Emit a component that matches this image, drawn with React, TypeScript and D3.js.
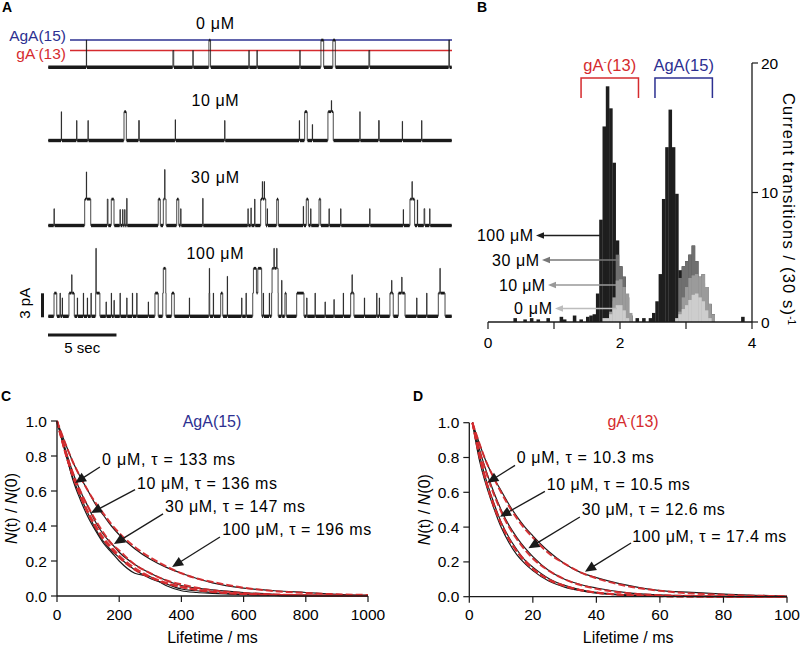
import React from 'react';
import * as d3 from 'd3';

const FONT = "'Liberation Sans', Arial, Helvetica, sans-serif";
const BLUE = '#2d3091';
const RED = '#d52b2e';
const INK = '#1a1a1a';

// ---------------- Panel A data ----------------
const traceNames = ['0 μM', '10 μM', '30 μM', '100 μM'];
// channel openings: [start (s), duration (s), amplitude (pA)]
const trace0 = [
  [2.80, 0.02, 3.4], [9.12, 0.06, 2.1], [10.58, 0.02, 2.1], [11.75, 0.12, 3.4],
  [14.67, 0.02, 2.1], [15.26, 0.02, 2.1], [18.39, 0.02, 2.1], [19.93, 0.2, 3.4],
  [20.80, 0.18, 3.4], [23.43, 0.06, 2.1], [29.27, 0.04, 3.4],
];
const trace1 = [
  [0.97, 0.02, 3.6], [2.09, 0.02, 2.5], [2.92, 0.02, 2.5], [5.55, 0.17, 3.6],
  [6.62, 0.05, 2.5], [9.29, 0.02, 2.6], [12.90, 0.02, 2.5], [18.35, 0.02, 2.5],
  [18.74, 0.19, 3.6], [19.30, 0.02, 2.0], [20.44, 0.39, 3.6], [20.69, 0.02, 1.4],
  [22.77, 0.02, 3.6], [24.14, 0.05, 2.5], [25.87, 0.02, 2.4], [27.28, 0.02, 2.5],
];
const trace2 = [
  [0.44, 0.02, 2.1], [2.68, 0.44, 3.3], [2.80, 0.02, 3.4], [4.33, 0.05, 3.3],
  [4.62, 0.2, 3.3], [5.26, 0.02, 2.0], [5.45, 0.02, 2.0], [5.60, 0.02, 2.0],
  [5.75, 0.02, 3.4], [8.05, 0.15, 3.3], [8.42, 0.2, 3.3], [8.52, 0.02, 3.7],
  [9.40, 0.15, 3.3], [9.69, 0.02, 2.1], [11.30, 0.02, 3.4], [14.60, 0.02, 2.1],
  [14.82, 0.02, 2.2], [15.09, 0.02, 3.3], [15.53, 0.37, 3.3], [15.65, 0.02, 2.2],
  [15.79, 0.02, 2.2], [16.01, 0.02, 2.1], [16.70, 0.12, 3.3], [18.64, 0.02, 2.4],
  [18.86, 0.15, 3.3], [19.18, 0.02, 2.1], [19.79, 0.12, 3.3], [20.52, 0.02, 2.1],
  [21.37, 0.02, 2.1], [23.49, 0.02, 2.1], [25.94, 0.02, 2.0], [26.43, 0.34, 3.3],
  [26.58, 0.02, 2.2], [26.97, 0.02, 3.2], [27.46, 0.05, 2.1], [27.87, 0.02, 2.1],
];
const trace3 = [
  [0.44, 0.2, 2.9], [0.88, 0.02, 2.9], [1.04, 0.02, 2.3], [1.53, 0.39, 2.9],
  [1.73, 0.02, 2.3], [2.14, 0.02, 2.3], [2.58, 0.02, 2.9], [2.87, 0.02, 2.3],
  [3.14, 0.02, 2.9], [3.48, 0.31, 2.9], [3.50, 0.02, 5.6], [4.24, 0.02, 1.8],
  [4.62, 0.02, 2.9], [4.82, 0.02, 2.0], [5.26, 0.02, 2.9], [5.75, 0.02, 2.3],
  [6.16, 0.02, 2.9], [6.48, 0.02, 2.9], [7.32, 0.02, 1.8], [7.81, 0.24, 2.9],
  [8.38, 0.24, 2.9], [8.42, 0.18, 3.1], [9.03, 0.19, 2.9], [10.32, 0.02, 2.3],
  [11.76, 0.05, 2.9], [11.78, 0.02, 3.1], [12.07, 0.02, 2.9], [12.61, 0.15, 2.9],
  [13.09, 0.02, 5.0], [14.14, 0.02, 2.3], [14.46, 0.02, 2.9], [14.95, 0.66, 2.9],
  [15.00, 0.22, 3.1], [15.32, 0.28, 3.1], [15.72, 0.02, 2.9], [16.16, 0.02, 2.9],
  [16.33, 0.48, 2.9], [16.36, 0.44, 3.1], [16.50, 0.02, 2.5], [16.70, 0.02, 2.5],
  [17.06, 0.02, 4.5], [17.30, 0.1, 2.9], [18.16, 0.53, 2.9], [18.89, 0.02, 2.3],
  [19.50, 0.02, 2.9], [20.23, 0.02, 1.8], [20.88, 0.02, 2.1], [21.56, 0.02, 2.9],
  [22.10, 0.24, 2.9], [22.20, 0.02, 2.3], [23.10, 0.02, 2.3], [24.00, 0.02, 2.9],
  [24.19, 0.02, 2.3], [24.97, 0.24, 2.9], [25.09, 0.02, 1.6], [25.58, 0.49, 2.9],
  [25.83, 0.02, 2.0], [26.92, 0.02, 2.3], [27.65, 0.02, 2.9], [28.50, 0.49, 2.9],
  [28.62, 0.02, 3.1],
];
const traces = [trace0, trace1, trace2, trace3];
const levelAgA = 3.4; // pA, AgA(15) reference level
const levelgA = 2.1;  // pA, gA-(13) reference level
const traceDuration = 29.5; // s

// ---------------- Panel B data ----------------
// [bin start (current, pA), count per 30 s]
const hist100 = [
  [0.385, 0.3], [0.535, 0.2], [0.635, 0.3], [0.735, 0.2], [0.885, 0.3], [1.085, 0.4], [1.135, 0.2],
  [1.285, 0.5], [1.385, 0.2], [1.485, 0.4], [1.535, 0.5], [1.585, 0.6], [1.635, 2.2], [1.685, 7.9],
  [1.735, 15.1], [1.785, 18.2], [1.835, 16.5], [1.885, 12.3], [1.935, 6.3], [1.985, 4.3], [2.035, 3.5],
  [2.085, 1.9], [2.135, 0.5], [2.235, 0.3], [2.335, 0.3], [2.435, 0.3], [2.485, 0.7], [2.535, 1.6],
  [2.585, 3.7], [2.635, 9.5], [2.685, 13.5], [2.735, 16.4], [2.785, 13.5], [2.835, 9.9], [2.885, 4.0],
  [2.935, 4.3], [2.985, 4.7], [3.035, 5.2], [3.085, 5.9], [3.135, 4.7], [3.185, 3.5], [3.235, 3.7],
  [3.285, 2.7], [3.335, 1.4], [3.385, 0.6], [3.835, 0.4],
];
const hist30 = [
  [1.885, 1.6], [1.935, 5.2], [1.985, 4.3], [2.035, 3.5], [2.085, 1.9], [2.135, 0.5],
  [2.885, 3.4], [2.935, 4.3], [2.985, 4.7], [3.035, 5.2], [3.085, 5.9], [3.135, 4.7], [3.185, 3.4],
  [3.235, 3.0], [3.285, 2.7], [3.335, 1.2], [3.385, 0.5],
];
const hist10 = [
  [1.835, 0.8], [1.885, 1.9], [1.935, 3.2], [1.985, 3.3], [2.035, 2.7], [2.085, 2.2], [2.135, 0.7],
  [2.885, 0.8], [2.935, 1.9], [2.985, 2.7], [3.035, 3.4], [3.085, 3.6], [3.135, 3.7], [3.185, 3.5],
  [3.235, 3.7], [3.285, 2.7], [3.335, 1.4], [3.385, 0.6],
];
const hist0 = [
  [1.735, 0.3], [1.785, 0.3], [1.835, 0.6], [1.885, 1.0], [1.935, 1.3], [1.985, 1.3], [2.035, 0.9],
  [2.085, 0.3], [2.835, 0.3], [2.885, 0.6], [2.935, 1.0], [2.985, 1.3], [3.035, 1.7], [3.085, 2.1],
  [3.135, 2.2], [3.185, 1.9], [3.235, 1.6], [3.285, 0.9], [3.335, 0.3],
];
const histBin = 0.05;
const histSeries = [hist100, hist30, hist10, hist0];
const histLabels = ['100 μM', '30 μM', '10 μM', '0 μM'];
const histColors = ['#1e1e1e', '#6f6f6f', '#9b9b9b', '#cdcdcd'];
const arrowColors = ['#1e1e1e', '#777777', '#999999', '#bdbdbd'];
const bracketgA = [1.41, 2.28];
const bracketAgA = [2.53, 3.40];
const bTicksX = [0, 1, 2, 3, 4];
const bLabelsX = [0, 2, 4];
const bTicksY = [0, 10, 20];

// ---------------- Panel C data (AgA(15)) ----------------
const tC = [0, 25, 50, 75, 100, 125, 150, 175, 200, 250, 300, 350, 400, 450, 500, 600, 700, 800, 900, 1000];
const dataC0 = [1, 0.84, 0.67, 0.55, 0.45, 0.37, 0.30, 0.25, 0.20, 0.13, 0.11, 0.06, 0.03, 0.02, 0.015, 0.008, 0.003, 0, 0, 0];
const dataC10 = [1, 0.83, 0.68, 0.57, 0.47, 0.38, 0.31, 0.26, 0.22, 0.15, 0.10, 0.07, 0.04, 0.03, 0.02, 0.01, 0.004, 0.002, 0, 0];
const dataC30 = [1, 0.85, 0.71, 0.60, 0.51, 0.42, 0.35, 0.30, 0.25, 0.18, 0.13, 0.09, 0.06, 0.045, 0.035, 0.02, 0.01, 0.005, 0.002, 0];
const dataC100 = [1, 0.88, 0.77, 0.68, 0.60, 0.52, 0.46, 0.40, 0.35, 0.27, 0.21, 0.165, 0.13, 0.10, 0.075, 0.045, 0.03, 0.02, 0.01, 0.005];
const fitC0 = [1, 0.83, 0.69, 0.57, 0.47, 0.39, 0.32, 0.27, 0.22, 0.15, 0.105, 0.072, 0.05, 0.034, 0.023, 0.011, 0.005, 0.002, 0.001, 0];
const fitC10 = [1, 0.83, 0.69, 0.58, 0.48, 0.40, 0.33, 0.28, 0.23, 0.16, 0.11, 0.076, 0.053, 0.037, 0.025, 0.012, 0.006, 0.003, 0.001, 0];
const fitC30 = [1, 0.84, 0.71, 0.60, 0.51, 0.43, 0.36, 0.30, 0.26, 0.18, 0.13, 0.09, 0.066, 0.047, 0.033, 0.017, 0.009, 0.004, 0.002, 0.001];
const fitC100 = [1, 0.88, 0.77, 0.68, 0.60, 0.53, 0.47, 0.41, 0.36, 0.28, 0.22, 0.17, 0.13, 0.10, 0.08, 0.047, 0.028, 0.017, 0.01, 0.006];
const labelsC = ['0 μM, τ = 133 ms', '10 μM, τ = 136 ms', '30 μM, τ = 147 ms', '100 μM, τ = 196 ms'];
const ticksC = [0, 200, 400, 600, 800, 1000];

// ---------------- Panel D data (gA-(13)) ----------------
const tD = [1, 3, 5, 7.5, 10, 12.5, 15, 17.5, 20, 25, 30, 35, 40, 50, 60, 70, 80, 90, 100];
const dataD0 = [1, 0.80, 0.66, 0.52, 0.40, 0.31, 0.24, 0.19, 0.15, 0.09, 0.055, 0.035, 0.02, 0.008, 0.003, 0.001, 0, 0, 0];
const dataD10 = [1, 0.83, 0.69, 0.55, 0.43, 0.34, 0.27, 0.21, 0.17, 0.105, 0.065, 0.04, 0.025, 0.01, 0.004, 0.002, 0, 0, 0];
const dataD30 = [1, 0.86, 0.74, 0.61, 0.50, 0.41, 0.34, 0.28, 0.23, 0.15, 0.10, 0.07, 0.05, 0.022, 0.01, 0.005, 0.002, 0, 0];
const dataD100 = [1, 0.89, 0.79, 0.69, 0.61, 0.53, 0.46, 0.40, 0.35, 0.26, 0.19, 0.14, 0.11, 0.065, 0.035, 0.025, 0.015, 0.008, 0.004];
const fitD0 = [1, 0.82, 0.68, 0.53, 0.42, 0.33, 0.26, 0.20, 0.16, 0.097, 0.06, 0.037, 0.023, 0.009, 0.003, 0.001, 0, 0, 0];
const fitD10 = [1, 0.83, 0.68, 0.54, 0.42, 0.33, 0.26, 0.21, 0.16, 0.10, 0.063, 0.039, 0.024, 0.009, 0.004, 0.001, 0, 0, 0];
const fitD30 = [1, 0.85, 0.73, 0.60, 0.49, 0.40, 0.33, 0.27, 0.22, 0.15, 0.10, 0.067, 0.045, 0.02, 0.009, 0.004, 0.002, 0.001, 0];
const fitD100 = [1, 0.89, 0.79, 0.69, 0.60, 0.52, 0.45, 0.39, 0.34, 0.25, 0.19, 0.14, 0.106, 0.06, 0.034, 0.019, 0.011, 0.006, 0.003];
const labelsD = ['0 μM, τ = 10.3 ms', '10 μM, τ = 10.5 ms', '30 μM, τ = 12.6 ms', '100 μM, τ = 17.4 ms'];
const ticksD = [0, 20, 40, 60, 80, 100];
const ticksN = [0, 0.2, 0.4, 0.6, 0.8, 1.0];

// annotation anchors in data units: [text t, text N, tail t, tail N, tip t, tip N]
const annotC = [
  [145, 0.747, 138, 0.737, 58, 0.646],
  [257, 0.613, 251, 0.608, 109, 0.474],
  [347, 0.48, 341, 0.469, 183, 0.297],
  [531, 0.351, 524, 0.337, 370, 0.166],
];
const annotD = [
  [14.9, 0.771, 14.4, 0.755, 5.67, 0.655],
  [24.4, 0.613, 23.8, 0.605, 9.66, 0.46],
  [35.4, 0.467, 34.8, 0.458, 18.6, 0.278],
  [51.3, 0.317, 50.9, 0.309, 36.4, 0.144],
];
const annotWidthC = [133, 140, 140, 149];
const annotWidthD = [137, 143, 143, 154];
const traceNameWidth = [38, 47, 48, 57];
const legendWidth = [56, 47, 46, 38];

// ---------------- helpers ----------------
function buildSignal(events: number[][]) {
  const pts = new Set<number>([0, traceDuration]);
  events.forEach(([s, d]) => { pts.add(s); pts.add(+(s + d).toFixed(4)); });
  const ts = Array.from(pts).sort((a, b) => a - b);
  return ts.map((t) => ({
    t,
    a: d3.sum(events, ([s, d, a]) => (t >= s - 1e-9 && t < +(s + d).toFixed(4) - 1e-9 ? a : 0)),
  }));
}

const xA = d3.scaleLinear().domain([0, traceDuration]).range([48, 452]);
const traceBase = [67.3, 140.5, 225.5, 316.3];
const traceLabelY = [28.5, 106, 183, 259];
const pxPerPA = 8;

function Trace({ events, base }: { events: number[][]; base: number }) {
  const y = d3.scaleLinear().domain([0, 1]).range([base, base - pxPerPA]);
  const sig = buildSignal(events);
  const line = d3.line<any>().x((d) => xA(d.t)).y((d) => y(d.a)).curve(d3.curveStepAfter);
  const thick: any[] = [];
  for (let i = 0; i < sig.length - 1; i++) {
    const x1 = xA(sig[i].t);
    const x2 = xA(sig[i + 1].t);
    if (x2 - x1 > 1.2) {
      thick.push(
        <line key={i} x1={x1 + 0.3} x2={x2 - 0.3} y1={y(sig[i].a)} y2={y(sig[i].a)}
          stroke={INK} strokeWidth={sig[i].a === 0 ? 3.4 : 2.8} />
      );
    }
  }
  return (
    <g>
      <path d={line(sig) || ''} fill="none" stroke={INK} strokeWidth={0.8} />
      {thick}
    </g>
  );
}

function GALabel({ x, y, anchor, fill, size }: any) {
  return (
    <text x={x} y={y} textAnchor={anchor} fill={fill} fontSize={size} fontFamily={FONT}>
      gA<tspan dy={-6} fontSize={size * 0.6}>-</tspan><tspan dy={6}>(13)</tspan>
    </text>
  );
}

function Arrow({ x1, y1, x2, y2, color, len = 11, half = 5, width = 1.3 }: any) {
  const dx = x2 - x1, dy = y2 - y1;
  const L = Math.hypot(dx, dy);
  const ux = dx / L, uy = dy / L;
  const bx = x2 - ux * len, by = y2 - uy * len;
  const px = -uy * half, py = ux * half;
  return (
    <g>
      <line x1={x1} y1={y1} x2={bx + ux * 2} y2={by + uy * 2} stroke={color} strokeWidth={width} />
      <polygon points={`${x2},${y2} ${bx + px},${by + py} ${bx - px},${by - py}`} fill={color} />
    </g>
  );
}

function DecayPanel({ xDomain, xRange, yRange, xTicks, t, data, fits, labels, widths, annots, title, titleColor, titleX, yLabelX, letter, letterX }: any) {
  const x = d3.scaleLinear().domain(xDomain).range(xRange);
  const y = d3.scaleLinear().domain([0, 1]).range(yRange);
  const dataLine = d3.line<number>().x((_, i) => x(t[i])).y((d) => y(d)).curve(d3.curveMonotoneX);
  const fitLine = d3.line<number>().x((_, i) => x(t[i])).y((d) => y(d)).curve(d3.curveMonotoneX);
  const midX = (xRange[0] + xRange[1]) / 2;
  return (
    <g fontFamily={FONT}>
      <text x={letterX} y={400.7} fontSize={14} fontWeight="bold">{letter}</text>
      {data.map((d: number[], i: number) => (
        <path key={'d' + i} d={dataLine(d) || ''} fill="none" stroke={INK} strokeWidth={1.2} />
      ))}
      {fits.map((d: number[], i: number) => (
        <path key={'f' + i} d={fitLine(d) || ''} fill="none" stroke={RED} strokeWidth={2} strokeDasharray="7,3" opacity={0.95} />
      ))}
      <line x1={xRange[0]} x2={xRange[1]} y1={yRange[0]} y2={yRange[0]} stroke={INK} strokeWidth={1.3} />
      <line x1={xRange[0]} x2={xRange[0]} y1={yRange[0]} y2={yRange[1]} stroke={INK} strokeWidth={1.3} />
      {xTicks.map((v: number) => (
        <g key={'x' + v}>
          <line x1={x(v)} x2={x(v)} y1={yRange[0]} y2={yRange[0] + 6} stroke={INK} strokeWidth={1.2} />
          <text x={x(v)} y={620} textAnchor="middle" fontSize={15.5}>{v}</text>
        </g>
      ))}
      {ticksN.map((v: number) => (
        <g key={'y' + v}>
          <line x1={xRange[0] - 6} x2={xRange[0]} y1={y(v)} y2={y(v)} stroke={INK} strokeWidth={1.2} />
          <text x={xRange[0] - 10} y={y(v) + 5.5} textAnchor="end" fontSize={15.5}>{v.toFixed(1)}</text>
        </g>
      ))}
      <text x={midX} y={643} textAnchor="middle" fontSize={16}>Lifetime / ms</text>
      <text transform={`translate(${yLabelX},${(yRange[0] + yRange[1]) / 2}) rotate(-90)`} textAnchor="middle" fontSize={16}>
        <tspan fontStyle="italic">N</tspan>(t) / <tspan fontStyle="italic">N</tspan>(0)
      </text>
      {title === 'gA' ? (
        <GALabel x={titleX} y={427} anchor="middle" fill={titleColor} size={16} />
      ) : (
        <text x={titleX} y={427} textAnchor="middle" fontSize={16} fill={titleColor}>{title}</text>
      )}
      {annots.map((a: number[], i: number) => (
        <g key={'a' + i}>
          <Arrow x1={x(a[2])} y1={y(a[3])} x2={x(a[4])} y2={y(a[5])} color={INK} />
          <text x={x(a[0])} y={y(a[1])} fontSize={16} textLength={widths[i]} lengthAdjust="spacing">{labels[i]}</text>
        </g>
      ))}
    </g>
  );
}

export default function App() {
  const xB = d3.scaleLinear().domain([0, 4]).range([488, 752]);
  const yB = d3.scaleLinear().domain([0, 20]).range([322, 63]);
  const legendY = [235.5, 260, 285, 308.5];
  const legendTextX = [533, 539, 545, 552];
  const legendTip = [536, 542, 548, 555];
  const legendTail = [601, 619, 619, 617];

  return (
    <svg width={800} height={645} style={{ position: 'absolute', left: 0, top: 0, background: '#fff' }} fontFamily={FONT}>
      <rect width={800} height={645} fill="#fff" />

      {/* ---------- Panel A ---------- */}
      <text x={2} y={11.7} fontSize={14} fontWeight="bold">A</text>
      <line x1={70} x2={452} y1={traceBase[0] - levelAgA * pxPerPA} y2={traceBase[0] - levelAgA * pxPerPA} stroke={BLUE} strokeWidth={1.5} />
      <line x1={70} x2={452} y1={traceBase[0] - levelgA * pxPerPA} y2={traceBase[0] - levelgA * pxPerPA} stroke={RED} strokeWidth={1.5} />
      <text x={66} y={41} textAnchor="end" fontSize={15.5} fill={BLUE}>AgA(15)</text>
      <GALabel x={66} y={58.5} anchor="end" fill={RED} size={15.5} />
      {traces.map((ev, i) => (
        <g key={i}>
          <Trace events={ev} base={traceBase[i]} />
          <text x={215 - traceNameWidth[i] / 2} y={traceLabelY[i]} fontSize={16} textLength={traceNameWidth[i]} lengthAdjust="spacing">{traceNames[i]}</text>
        </g>
      ))}
      {/* scale bars */}
      <line x1={42.5} x2={42.5} y1={traceBase[3] + 1} y2={traceBase[3] + 1 - 3 * pxPerPA} stroke={INK} strokeWidth={3} />
      <text transform={`translate(30,${traceBase[3] - 13}) rotate(-90)`} textAnchor="middle" fontSize={15}>3 pA</text>
      <line x1={xA(0)} x2={xA(5)} y1={335} y2={335} stroke={INK} strokeWidth={3} />
      <text x={(xA(0) + xA(5)) / 2} y={353} textAnchor="middle" fontSize={15}>5 sec</text>

      {/* ---------- Panel B ---------- */}
      <text x={477} y={11.7} fontSize={14} fontWeight="bold">B</text>
      {histSeries.map((s, si) => (
        <g key={si} fill={histColors[si]}>
          {s.map(([b, c], i) => (
            <rect key={i} x={xB(b)} y={yB(c)} width={xB(b + histBin) - xB(b) + 0.25} height={yB(0) - yB(c)} />
          ))}
        </g>
      ))}
      <path d={`M${xB(bracketgA[0])},98 V78 H${xB(bracketgA[1])} V98`} fill="none" stroke={RED} strokeWidth={1.5} />
      <path d={`M${xB(bracketAgA[0])},98 V78 H${xB(bracketAgA[1])} V98`} fill="none" stroke={BLUE} strokeWidth={1.5} />
      <GALabel x={(xB(bracketgA[0]) + xB(bracketgA[1])) / 2} y={70.5} anchor="middle" fill={RED} size={16.5} />
      <text x={(xB(bracketAgA[0]) + xB(bracketAgA[1])) / 2} y={70.5} textAnchor="middle" fontSize={16.5} fill={BLUE}>AgA(15)</text>
      {histLabels.map((lab, i) => (
        <g key={lab}>
          <Arrow x1={legendTail[i]} y1={legendY[i]} x2={legendTip[i]} y2={legendY[i]} color={arrowColors[i]} len={8} half={3.2} width={1.6} />
          <text x={legendTextX[i] - legendWidth[i]} y={legendY[i] + 5.5} fontSize={16} textLength={legendWidth[i]} lengthAdjust="spacing">{lab}</text>
        </g>
      ))}
      <line x1={xB(0)} x2={xB(4)} y1={yB(0)} y2={yB(0)} stroke={INK} strokeWidth={1.3} />
      {bTicksX.map((v) => (
        <line key={v} x1={xB(v)} x2={xB(v)} y1={yB(0)} y2={yB(0) + 7} stroke={INK} strokeWidth={1.2} />
      ))}
      {bLabelsX.map((v) => (
        <text key={v} x={xB(v)} y={348} textAnchor="middle" fontSize={15.5}>{v}</text>
      ))}
      <line x1={xB(4)} x2={xB(4)} y1={yB(0)} y2={yB(20)} stroke={INK} strokeWidth={1.3} />
      {bTicksY.map((v) => (
        <g key={v}>
          <line x1={xB(4)} x2={xB(4) + 6} y1={yB(v)} y2={yB(v)} stroke={INK} strokeWidth={1.2} />
          <text x={xB(4) + 9} y={yB(v) + 5.5} fontSize={15.5}>{v}</text>
        </g>
      ))}
      <text transform="translate(783,93) rotate(90)" fontSize={16.5}>
        <tspan textLength={222} lengthAdjust="spacing">Current transitions / (30 s)</tspan><tspan dy={-5} fontSize={10}>-1</tspan>
      </text>

      {/* ---------- Panel C ---------- */}
      <DecayPanel
        xDomain={[0, 1000]} xRange={[57, 368]} yRange={[596, 421]} xTicks={ticksC}
        t={tC} data={[dataC0, dataC10, dataC30, dataC100]} fits={[fitC0, fitC10, fitC30, fitC100]}
        labels={labelsC} widths={annotWidthC} annots={annotC} title="AgA(15)" titleColor={BLUE} titleX={212}
        yLabelX={17} letter="C" letterX={1}
      />
      {/* ---------- Panel D ---------- */}
      <DecayPanel
        xDomain={[0, 100]} xRange={[469.3, 787]} yRange={[596.7, 422.7]} xTicks={ticksD}
        t={tD} data={[dataD0, dataD10, dataD30, dataD100]} fits={[fitD0, fitD10, fitD30, fitD100]}
        labels={labelsD} widths={annotWidthD} annots={annotD} title="gA" titleColor={RED} titleX={633}
        yLabelX={430} letter="D" letterX={413}
      />
    </svg>
  );
}
